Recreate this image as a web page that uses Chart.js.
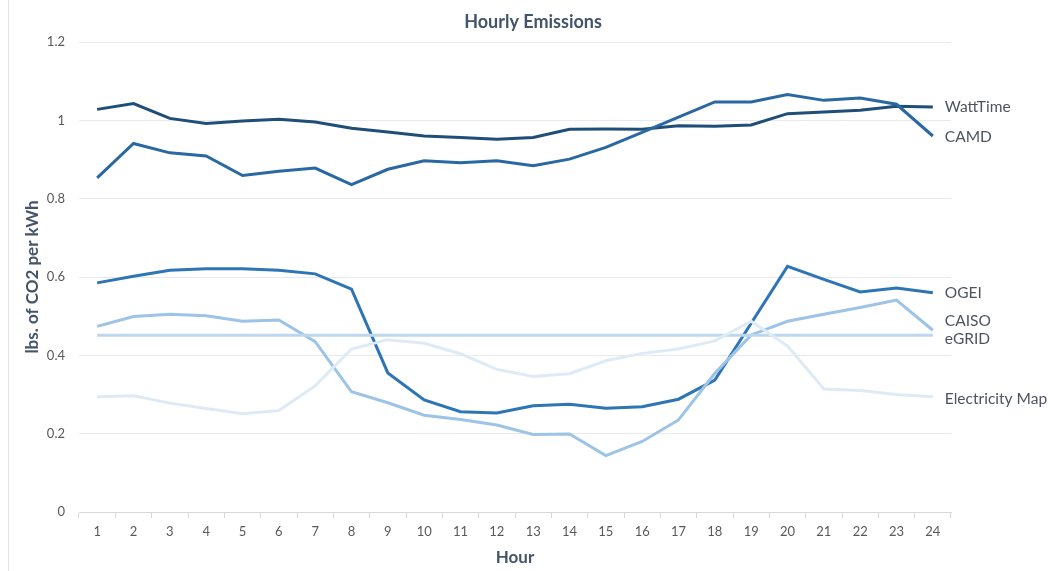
<!DOCTYPE html>
<html>
<head>
<meta charset="utf-8">
<title>Hourly Emissions</title>
<script src="https://cdn.jsdelivr.net/npm/chart.js@4.4.1/dist/chart.umd.min.js"></script>
<style>
  html, body { margin: 0; padding: 0; background: #ffffff; overflow: hidden; }
  #wrap { position: relative; width: 1049px; height: 571px; }
  canvas { display: block; }
</style>
</head>
<body>
<div id="wrap"><canvas id="chart" width="1049" height="571"></canvas></div>
<script>
// Hour of day
const hours = ['1','2','3','4','5','6','7','8','9','10','11','12','13','14','15','16','17','18','19','20','21','22','23','24'];

// lbs. of CO2 per kWh, by source
const wattTime = [1.028, 1.043, 1.005, 0.992, 0.998, 1.003, 0.996, 0.980, 0.970, 0.960, 0.956, 0.952,
                  0.956, 0.977, 0.978, 0.977, 0.986, 0.985, 0.988, 1.017, 1.021, 1.026, 1.036, 1.034];
const camd = [0.853, 0.941, 0.917, 0.909, 0.859, 0.870, 0.878, 0.836, 0.875, 0.897, 0.892, 0.897,
              0.884, 0.901, 0.931, 0.969, 1.008, 1.047, 1.047, 1.066, 1.051, 1.057, 1.041, 0.960];
const ogei = [0.585, 0.602, 0.617, 0.621, 0.621, 0.617, 0.608, 0.569, 0.355, 0.286, 0.256, 0.253,
              0.271, 0.275, 0.265, 0.269, 0.288, 0.337, 0.482, 0.627, 0.594, 0.562, 0.572, 0.560];
const caiso = [0.474, 0.499, 0.505, 0.501, 0.487, 0.490, 0.435, 0.307, 0.279, 0.247, 0.236, 0.222,
               0.198, 0.199, 0.144, 0.180, 0.235, 0.354, 0.452, 0.487, 0.505, 0.522, 0.541, 0.464];
const egrid = [0.451, 0.451, 0.451, 0.451, 0.451, 0.451, 0.451, 0.451, 0.451, 0.451, 0.451, 0.451,
               0.451, 0.451, 0.451, 0.451, 0.451, 0.451, 0.451, 0.451, 0.451, 0.451, 0.451, 0.451];
const electricityMap = [0.294, 0.297, 0.278, 0.264, 0.251, 0.259, 0.322, 0.416, 0.440, 0.431, 0.404, 0.364,
                        0.346, 0.353, 0.386, 0.405, 0.416, 0.437, 0.487, 0.424, 0.314, 0.310, 0.300, 0.294];

const yTicks = [0, 0.2, 0.4, 0.6, 0.8, 1, 1.2];

const FONT = 'Lato, "Open Sans", sans-serif';
const TEXT = '#595959';
const TITLE_TEXT = '#44546a';

// Series name written just right of each line's last point
const endLabels = {
  id: 'endLabels',
  afterDatasetsDraw(chart) {
    const ctx = chart.ctx;
    ctx.save();
    ctx.font = '15.5px ' + FONT;
    ctx.fillStyle = '#4d5360';
    ctx.textAlign = 'left';
    ctx.textBaseline = 'middle';
    chart.data.datasets.forEach((ds, i) => {
      const meta = chart.getDatasetMeta(i);
      const pt = meta.data[meta.data.length - 1];
      if (!pt) return;
      ctx.fillText(ds.label, pt.x + 12, pt.y + (ds.labelShift || 0));
    });
    ctx.restore();
  }
};

// Chart heading and the thin frame edge on the left
const heading = {
  id: 'heading',
  beforeDraw(chart) {
    const ctx = chart.ctx;
    ctx.save();
    ctx.strokeStyle = '#e3e3e3';
    ctx.lineWidth = 1;
    ctx.beginPath();
    ctx.moveTo(8.5, 0);
    ctx.lineTo(8.5, chart.height);
    ctx.stroke();
    ctx.restore();
  },
  afterDraw(chart) {
    const ctx = chart.ctx;
    ctx.save();
    ctx.font = 'bold 18px ' + FONT;
    ctx.fillStyle = TITLE_TEXT;
    ctx.textAlign = 'center';
    ctx.textBaseline = 'middle';
    ctx.fillText('Hourly Emissions', 533, 22);
    ctx.restore();
  }
};

const line = (label, data, color, extra) => Object.assign({
  label, data,
  borderColor: color,
  backgroundColor: color,
  borderWidth: 3,
  pointRadius: 0,
  pointHoverRadius: 0,
  tension: 0,
  fill: false
}, extra || {});

new Chart(document.getElementById('chart'), {
  type: 'line',
  data: {
    labels: hours,
    datasets: [
      line('Electricity Map', electricityMap, '#deebf7', { labelShift: 2 }),
      line('eGRID', egrid, '#bdd7ee', { labelShift: 4 }),
      line('CAISO', caiso, '#9dc3e6', { labelShift: -9 }),
      line('OGEI', ogei, '#2e75b6'),
      line('CAMD', camd, '#2a68a3', { labelShift: 1 }),
      line('WattTime', wattTime, '#1f4e79')
    ]
  },
  options: {
    responsive: false,
    animation: false,
    devicePixelRatio: 1,
    layout: { padding: { top: 42, right: 98, left: 0, bottom: 0 } },
    plugins: {
      legend: { display: false },
      tooltip: { enabled: false },
      title: { display: false }
    },
    scales: {
      x: {
        type: 'category',
        offset: true,
        grid: {
          offset: true,
          drawOnChartArea: false,
          drawTicks: true,
          tickLength: 6,
          color: '#d9d9d9'
        },
        border: { display: true, color: '#d9d9d9', width: 1 },
        ticks: {
          font: { family: FONT, size: 13 },
          color: TEXT,
          padding: 6,
          maxRotation: 0,
          autoSkip: false
        },
        title: {
          display: true,
          text: 'Hour',
          font: { family: FONT, size: 17, weight: 'bold' },
          color: TITLE_TEXT,
          padding: { top: 4, bottom: 3 }
        },
        afterFit(scale) { scale.height = 59; }
      },
      y: {
        min: 0,
        max: 1.2,
        afterBuildTicks(scale) {
          scale.ticks = yTicks.map(v => ({ value: v }));
        },
        grid: {
          color: '#e7e9ee',
          drawTicks: false
        },
        border: { display: false },
        ticks: {
          font: { family: FONT, size: 13 },
          color: TEXT,
          padding: 14,
          callback: v => String(v)
        },
        title: {
          display: true,
          text: 'lbs. of CO2 per kWh',
          font: { family: FONT, size: 17, weight: 'bold' },
          color: TITLE_TEXT,
          padding: { top: 22, bottom: 4 }
        },
        afterFit(scale) { scale.width = 79; }
      }
    }
  },
  plugins: [endLabels, heading]
});
</script>
</body>
</html>
